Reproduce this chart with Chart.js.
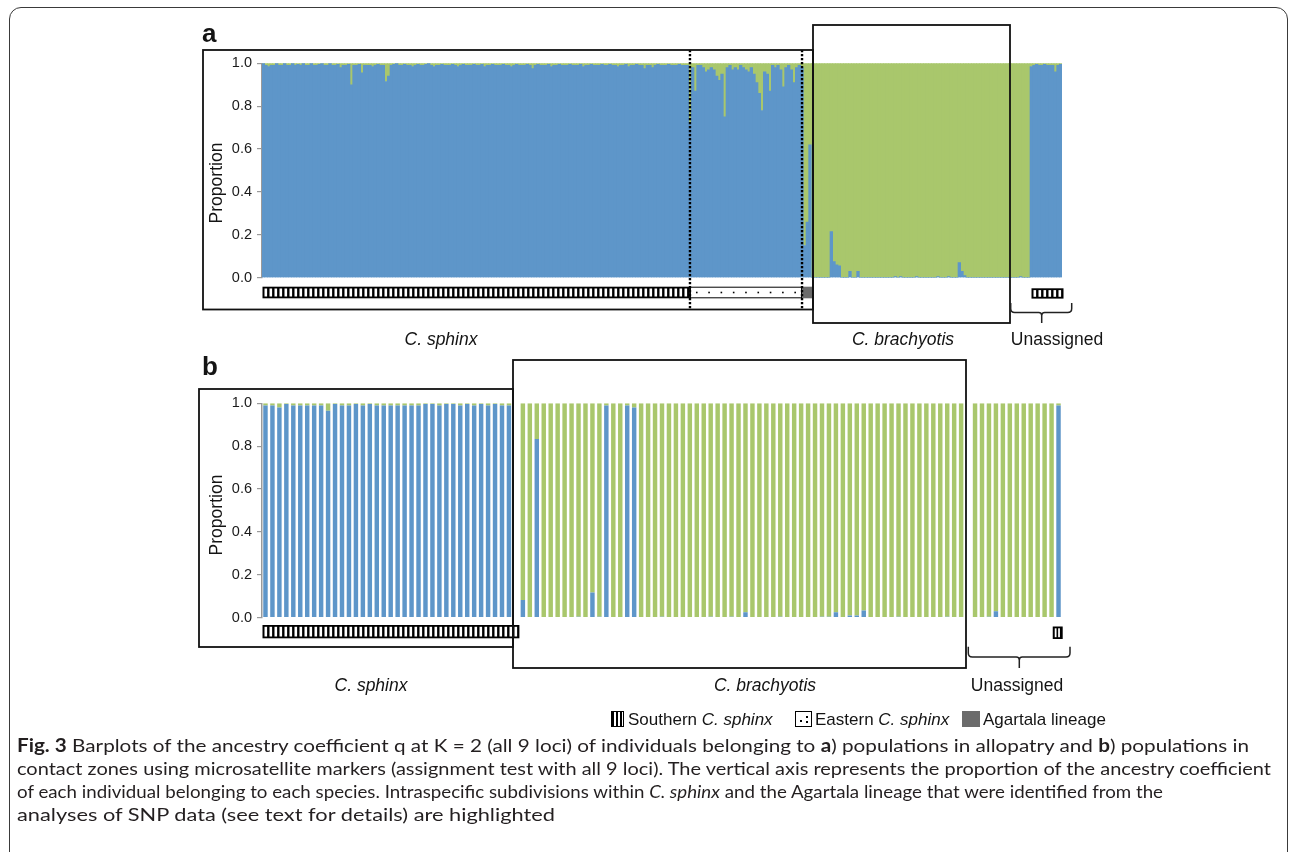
<!DOCTYPE html>
<html>
<head>
<meta charset="utf-8">
<title>Fig. 3</title>
<script src="https://cdn.jsdelivr.net/npm/chart.js@4.4.1/dist/chart.umd.min.js"></script>
<style>
  html, body { margin:0; padding:0; background:#fff; }
  body { position:relative; width:1295px; height:852px; overflow:hidden; font-family:"Liberation Sans", Arial, sans-serif; color:#141414; }
  canvas { position:absolute; left:0; top:0; }
  .frame { position:absolute; left:9px; top:7px; width:1277px; height:900px; border:1.5px solid #3a3a3a; border-radius:12px; }
  .txt { position:absolute; white-space:nowrap; transform:translate(-50%,-50%); font-size:17.5px; line-height:1; }
  .ylab { position:absolute; white-space:nowrap; transform:translate(-50%,-50%) rotate(-90deg); font-size:17.5px; line-height:1; }
  .tag { position:absolute; font-weight:bold; font-size:26px; line-height:1; }
  .leg { position:absolute; top:719px; transform:translateY(-50%); font-size:17px; white-space:nowrap; line-height:1; }
  .ico { position:absolute; top:711px; height:16px; box-sizing:border-box; }
  .cap { position:absolute; left:17px; white-space:nowrap; font-family:Lato, "Open Sans", sans-serif; font-size:18px; line-height:1; color:#231f20; transform-origin:0 50%; transform:translateY(-50%); }
</style>
</head>
<body>
<div class="frame"></div>
<canvas id="chartA" width="1295" height="852"></canvas>
<canvas id="chartB" width="1295" height="852"></canvas>

<div class="tag" style="left:202px; top:20px">a</div>
<div class="tag" style="left:202px; top:353px">b</div>
<div class="ylab" style="left:217px; top:183px">Proportion</div>
<div class="ylab" style="left:217px; top:515px">Proportion</div>

<div class="txt" style="left:441px; top:340px"><i>C. sphinx</i></div>
<div class="txt" style="left:903px; top:340px"><i>C. brachyotis</i></div>
<div class="txt" style="left:1057px; top:340px">Unassigned</div>
<div class="txt" style="left:371px; top:686px"><i>C. sphinx</i></div>
<div class="txt" style="left:765px; top:686px"><i>C. brachyotis</i></div>
<div class="txt" style="left:1017px; top:686px">Unassigned</div>

<div class="ico" style="left:611px; width:13px; border:1.5px solid #000; background:repeating-linear-gradient(90deg,#000 0 2px,#fff 2px 4px);"></div>
<div class="leg" style="left:628px">Southern <i>C. sphinx</i></div>
<div class="ico" style="left:795px; width:17px; border:1px solid #000; background:#fff;">
  <span style="position:absolute;left:4px;top:8px;width:1.5px;height:1.5px;background:#000"></span>
  <span style="position:absolute;left:10px;top:4px;width:1.5px;height:1.5px;background:#000"></span>
  <span style="position:absolute;left:10px;top:9px;width:1.5px;height:1.5px;background:#000"></span>
</div>
<div class="leg" style="left:815px">Eastern <i>C. sphinx</i></div>
<div class="ico" style="left:962px; width:18px; background:#6b6b6b;"></div>
<div class="leg" style="left:983px">Agartala lineage</div>

<div class="cap" data-w="1232" style="top:745px"><b>Fig. 3</b> Barplots of the ancestry coefficient q at K = 2 (all 9 loci) of individuals belonging to <b>a</b>) populations in allopatry and <b>b</b>) populations in</div>
<div class="cap" data-w="1254" style="top:768px">contact zones using microsatellite markers (assignment test with all 9 loci). The vertical axis represents the proportion of the ancestry coefficient</div>
<div class="cap" data-w="1146" style="top:791px">of each individual belonging to each species. Intraspecific subdivisions within <i>C. sphinx</i> and the Agartala lineage that were identified from the</div>
<div class="cap" data-w="538" style="top:814px">analyses of SNP data (see text for details) are highlighted</div>

<script>
// ancestry coefficient q of C. sphinx (blue); C. brachyotis share = 1 - q
// panel a: populations in allopatry
var aSouthern = [
  1, 0.99, 0.985, 0.99, 0.99, 1, 0.99, 0.99, 1, 0.99, 0.99, 1, 0.99, 0.995, 0.99, 1, 0.99, 0.99, 1, 0.99,
  0.99, 0.995, 1, 0.99, 0.99, 1, 0.99, 0.99, 0.995, 0.98, 0.99, 0.99, 0.995, 0.90, 0.99, 0.99, 0.995, 0.955, 0.99, 0.99,
  0.99, 0.985, 0.99, 0.995, 0.99, 0.99, 0.915, 0.94, 0.99, 0.995, 1, 0.99, 0.99, 0.995, 0.99, 0.99, 0.985, 0.99, 0.995, 0.99,
  0.99, 0.995, 1, 0.99, 0.985, 0.99, 0.99, 0.995, 0.99, 0.99, 0.99, 0.995, 0.99, 0.985, 0.99, 0.995, 0.99, 0.99, 0.99, 0.995,
  0.99, 0.99, 0.995, 0.985, 0.99, 0.99, 0.995, 0.99, 0.99, 0.99, 0.995, 0.99, 0.99, 0.985, 0.99, 0.995, 0.99, 0.99, 0.99, 0.995,
  0.99, 0.975, 0.99, 0.995, 0.99, 0.99, 0.99, 0.995, 0.985, 0.99, 0.99, 0.995, 0.99, 0.99, 0.99, 0.995, 0.99, 0.99, 0.99, 0.995,
  0.985, 0.99, 0.99, 0.995, 0.99, 0.99, 0.99, 0.995, 0.99, 0.99, 0.995, 0.99, 0.99, 0.985, 0.99, 0.99, 0.995, 0.985, 0.99, 0.99,
  0.995, 0.99, 0.99, 0.975, 0.99, 0.99, 0.98, 0.99, 0.995, 0.99, 0.99, 0.99, 0.995, 0.99, 0.99, 0.99, 0.995, 0.99, 0.99, 0.99
];
var aEastern = [
  0.72, 0.98, 0.87, 0.99, 0.99, 0.98, 0.96, 0.97, 0.98, 0.97, 0.94, 0.92, 0.95, 0.75, 0.98,
  0.99, 0.97, 0.98, 0.97, 0.99, 0.98, 0.97, 0.96, 0.98, 0.95, 0.91, 0.86, 0.78, 0.96, 0.95,
  0.87, 0.99, 0.98, 0.99, 0.97, 0.89, 0.98, 0.99, 0.97, 0.91, 0.98, 0.99, 0.98
];
var aAgartala = [0.15, 0.26, 0.62];
var aBrachyotis = [
  0, 0, 0, 0, 0, 0, 0, 0.215, 0.075, 0.06, 0.055, 0, 0, 0, 0.03, 0, 0, 0.03, 0, 0,
  0, 0, 0, 0, 0, 0, 0, 0, 0, 0, 0, 0.005, 0, 0.005, 0, 0, 0, 0, 0, 0.005,
  0, 0, 0, 0, 0, 0, 0, 0.005, 0, 0, 0, 0.005, 0, 0, 0, 0.07, 0.03, 0.01, 0, 0,
  0, 0, 0, 0, 0, 0, 0, 0, 0, 0, 0, 0, 0, 0, 0, 0, 0, 0, 0.005, 0,
  0, 0
];
var aUnassigned = [0.985, 0.99, 0.995, 0.99, 0.99, 0.995, 0.99, 0.99, 0.99, 0.96, 0.99, 0.995];

// panel b: populations in contact zones
var bSouthern = [
  0.99, 0.99, 0.98, 0.997, 0.99, 0.99, 0.99, 0.99, 0.99, 0.965, 0.997, 0.99,
  0.99, 0.997, 0.99, 0.997, 0.99, 0.99, 0.99, 0.99, 0.99, 0.99, 0.99, 0.997,
  0.997, 0.99, 0.997, 0.997, 0.99, 0.997, 0.99, 0.997, 0.99, 0.997, 0.99, 0.99
];
var bBrachyotis = [
  0.082, 0, 0.834, 0, 0, 0, 0, 0, 0.005, 0, 0.118, 0.005, 0.99, 0, 0, 0.99,
  0.98, 0, 0, 0, 0.005, 0, 0, 0, 0, 0, 0, 0.005, 0, 0, 0.005, 0,
  0.025, 0, 0, 0, 0, 0.005, 0, 0, 0, 0, 0, 0.005, 0.005, 0.025, 0, 0.01,
  0.01, 0.033, 0, 0, 0, 0, 0.005, 0, 0, 0, 0, 0, 0, 0.005, 0, 0
];
var bUnassigned = [0, 0, 0.005, 0.03, 0, 0, 0, 0, 0, 0, 0, 0, 0.99];

var yTicks = [0, 0.2, 0.4, 0.6, 0.8, 1.0];

var BLUE = '#5e96c9';
var GREEN = '#a9c76c';

function other(arr) { return arr.map(function (v) { return v === null ? null : 1 - v; }); }

function drawStrip(ctx, s, x0, w) {
  var y = s.y, h = s.h;
  if (s.kind === 'south') {
    var pitch = s.pitch || 5, white = pitch * 0.52;
    ctx.fillStyle = '#000';
    ctx.fillRect(x0, y, w, h);
    ctx.fillStyle = '#fff';
    for (var x = x0 + 2; x + white <= x0 + w - 1.5; x += pitch) ctx.fillRect(x, y + 1.8, white, h - 3.6);
  } else if (s.kind === 'east') {
    ctx.fillStyle = '#fff';
    ctx.fillRect(x0, y, w, h);
    ctx.strokeStyle = '#000'; ctx.lineWidth = 1;
    ctx.strokeRect(x0 + 0.5, y + 0.5, w - 1, h - 1);
    ctx.fillStyle = '#000';
    for (var xd = x0 + 6; xd < x0 + w - 3; xd += 12.3) ctx.fillRect(xd, y + h / 2 - 0.8, 1.6, 1.6);
  } else {
    ctx.fillStyle = '#6b6b6b';
    ctx.fillRect(x0, y, w, h);
  }
}

function brace(ctx, x0, x1, xc, yTop, yMid, yBot) {
  ctx.beginPath();
  ctx.moveTo(x0, yTop);
  ctx.lineTo(x0, yMid - 4);
  ctx.quadraticCurveTo(x0, yMid, x0 + 4, yMid);
  ctx.lineTo(xc - 3, yMid);
  ctx.quadraticCurveTo(xc, yMid, xc, yMid + 3);
  ctx.lineTo(xc, yBot);
  ctx.moveTo(xc, yMid + 3);
  ctx.quadraticCurveTo(xc, yMid, xc + 3, yMid);
  ctx.lineTo(x1 - 4, yMid);
  ctx.quadraticCurveTo(x1, yMid, x1, yMid - 4);
  ctx.lineTo(x1, yTop);
  ctx.stroke();
}

var decor = {
  id: 'decor',
  afterDatasetsDraw: function (chart, args, o) {
    var ctx = chart.ctx, xs = chart.scales.x;
    var edge = function (k) { return xs.getPixelForValue(k - 0.5); };
    ctx.save();
    (o.strips || []).forEach(function (s) {
      var x0 = edge(s.from) + (s.dx0 || 0), x1 = edge(s.to) + (s.dx1 || 0);
      drawStrip(ctx, s, x0, x1 - x0);
    });
    ctx.strokeStyle = '#000';
    (o.dotted || []).forEach(function (d) {
      var x = edge(d.at) + (d.dx || 0);
      ctx.setLineDash([2.2, 1.8]); ctx.lineWidth = 2.4;
      ctx.beginPath(); ctx.moveTo(x, d.y0); ctx.lineTo(x, d.y1); ctx.stroke();
    });
    ctx.setLineDash([]);
    ctx.strokeStyle = '#111'; ctx.lineWidth = 1.8;
    (o.boxes || []).forEach(function (b) { ctx.strokeRect(b[0], b[1], b[2] - b[0], b[3] - b[1]); });
    ctx.lineWidth = 1.5; ctx.strokeStyle = '#222';
    (o.braces || []).forEach(function (b) { brace(ctx, b[0], b[1], b[2], b[3], b[4], b[5]); });
    ctx.restore();
  }
};
Chart.register(decor);

function makeOptions(padTop, padBottom, decorOpts) {
  return {
    responsive: false,
    animation: false,
    devicePixelRatio: 1,
    events: [],
    layout: { padding: { left: 200, right: 233, top: padTop, bottom: padBottom } },
    datasets: { bar: { barPercentage: 1, categoryPercentage: 1, borderWidth: 0 } },
    scales: {
      x: { stacked: true, display: false },
      y: {
        stacked: true, min: 0, max: 1,
        afterFit: function (s) { s.width = 62; },
        afterBuildTicks: function (s) { s.ticks = yTicks.map(function (v) { return { value: v }; }); },
        ticks: {
          padding: 5, color: '#1a1a1a',
          font: { family: 'Liberation Sans', size: 14.5 },
          callback: function (v) { return Number(v).toFixed(1); }
        },
        grid: { drawOnChartArea: false, drawTicks: true, tickLength: 5, color: '#9a9a9a', lineWidth: 1.2 },
        border: { display: true, color: '#9a9a9a', width: 1.5 }
      }
    },
    plugins: { legend: { display: false }, tooltip: { enabled: false }, decor: decorOpts }
  };
}

// panel a
var aBlue = aSouthern.concat(aEastern, aAgartala, aBrachyotis, aUnassigned);
var aLabels = aBlue.map(function (v, i) { return i + 1; });
var sA = aSouthern.length, eA = sA + aEastern.length, gA = eA + aAgartala.length,
    bA = gA + aBrachyotis.length, nA = aBlue.length;

new Chart(document.getElementById('chartA'), {
  type: 'bar',
  data: {
    labels: aLabels,
    datasets: [
      { label: 'C. sphinx', data: aBlue, backgroundColor: BLUE },
      { label: 'C. brachyotis', data: other(aBlue), backgroundColor: GREEN }
    ]
  },
  options: makeOptions(63.3, 852 - 277.7, {
    strips: [
      { kind: 'south', from: 0, to: sA, y: 286.7, h: 11.6, dx0: 0.5, dx1: 1.3 },
      { kind: 'east', from: sA, to: eA, y: 286.7, h: 11.6, dx0: 1.3, dx1: -1.3 },
      { kind: 'agartala', from: eA, to: gA, y: 286.7, h: 11.6, dx0: -1.3, dx1: 1.4 },
      { kind: 'south', from: bA, to: nA, y: 288.3, h: 10.3, dx0: 1.5, dx1: 1.5 }
    ],
    dotted: [{ at: sA, dx: 1.3, y0: 50, y1: 310 }, { at: eA, dx: -1.3, y0: 50, y1: 310 }],
    boxes: [[203, 50, 813, 309.5], [813, 25, 1010, 323]],
    braces: [[1010.7, 1071.7, 1041.7, 303, 312.5, 323]]
  })
});

// panel b (null = spacer between groups)
var bBlue = bSouthern.concat([null], bBrachyotis, [null], bUnassigned);
var bLabels = bBlue.map(function (v, i) { return i + 1; });
var nB = bBlue.length;

new Chart(document.getElementById('chartB'), {
  type: 'bar',
  data: {
    labels: bLabels,
    datasets: [
      { label: 'C. sphinx', data: bBlue, backgroundColor: BLUE, barPercentage: 0.64 },
      { label: 'C. brachyotis', data: other(bBlue), backgroundColor: GREEN, barPercentage: 0.64 }
    ]
  },
  options: makeOptions(403.3, 852 - 617.7, {
    strips: [
      { kind: 'south', from: 0, to: bSouthern.length + 1, y: 625, h: 13.3, dx0: 0.5 },
      { kind: 'south', from: nB - 1, to: nB, y: 626.5, h: 12.5, dx0: -2.3, dx1: 0.7, pitch: 3.4 }
    ],
    boxes: [[199, 389, 513, 647], [513, 360, 966, 668]],
    braces: [[968.3, 1070, 1019.3, 646.7, 657, 668]]
  })
});

function fitCaption() {
  document.querySelectorAll('.cap').forEach(function (el) {
    el.style.transform = 'translateY(-50%)';
    var w = el.getBoundingClientRect().width;
    var target = Number(el.getAttribute('data-w'));
    el.style.transform = 'translateY(-50%) scaleX(' + (target / w) + ')';
  });
}
fitCaption();
if (document.fonts && document.fonts.ready) document.fonts.ready.then(fitCaption);
</script>
</body>
</html>
